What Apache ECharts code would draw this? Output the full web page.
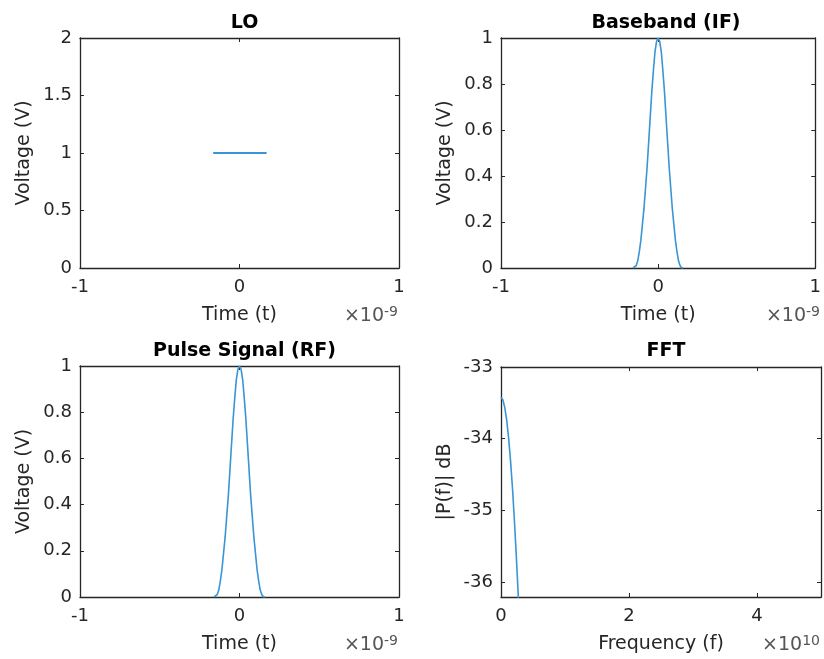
<!DOCTYPE html>
<html>
<head>
<meta charset="utf-8">
<script src="https://cdn.jsdelivr.net/npm/echarts@6/dist/echarts.min.js"></script>
<style>
html,body{margin:0;padding:0;background:#fff;}
#chart{width:824px;height:659px;}
</style>
</head>
<body>
<div id="chart"></div>
<script>
// ---- data (time in ns, i.e. x 1e-9 s; frequency in units of 1e10 Hz) ----
var titles = ['LO', 'Baseband (IF)', 'Pulse Signal (RF)', 'FFT'];
var loTime = [-0.165, 0.17];
var loVoltage = [1, 1];
var pulseTime = [-0.16, -0.15, -0.14, -0.13, -0.12, -0.11, -0.10, -0.09, -0.08, -0.07, -0.06, -0.05, -0.04, -0.03, -0.02, -0.01, 0,
                 0.01, 0.02, 0.03, 0.04, 0.05, 0.06, 0.07, 0.08, 0.09, 0.10, 0.11, 0.12, 0.13, 0.14, 0.15, 0.16];
var basebandVoltage = [0.0, 0.0, 0.01, 0.03, 0.07, 0.12, 0.19, 0.26, 0.35, 0.44, 0.55, 0.66, 0.77, 0.86, 0.94, 0.985, 1.0,
                       0.985, 0.94, 0.86, 0.77, 0.66, 0.55, 0.44, 0.35, 0.26, 0.19, 0.12, 0.07, 0.03, 0.01, 0.0, 0.0];
var rfVoltage = [0.0, 0.0, 0.01, 0.03, 0.07, 0.12, 0.19, 0.26, 0.35, 0.44, 0.55, 0.66, 0.77, 0.86, 0.94, 0.985, 1.0,
                 0.985, 0.94, 0.86, 0.77, 0.66, 0.55, 0.44, 0.35, 0.26, 0.19, 0.12, 0.07, 0.03, 0.01, 0.0, 0.0];
var fftFreq = [0, 0.03, 0.06, 0.09, 0.12, 0.15, 0.18, 0.21, 0.24, 0.27, 0.30];
var fftDb = [-33.42, -33.46, -33.57, -33.75, -34.0, -34.32, -34.7, -35.15, -35.65, -36.2, -36.8];
var timeTicks = [-1, 0, 1];
var loTicks = [0, 0.5, 1, 1.5, 2];
var pulseTicks = [0, 0.2, 0.4, 0.6, 0.8, 1];
var freqTicks = [0, 2, 4];
var dbTicks = [-36, -35, -34, -33];
var xNames = ['Time (t)', 'Time (t)', 'Time (t)', 'Frequency (f)'];
var yNames = ['Voltage (V)', 'Voltage (V)', 'Voltage (V)', '|P(f)| dB'];
var exponents = ['-9', '-9', '-9', '10'];

function zip(a, b) { return a.map(function (v, i) { return [v, b[i]]; }); }

var FONT = 'DejaVu Sans';
var TXT = '#262626';
var LINE = '#3a95d6';

var grids = [
  {left: 80, top: 38, width: 319, height: 230},
  {left: 501, top: 38, width: 320, height: 230},
  {left: 80, top: 366, width: 319, height: 231},
  {left: 501, top: 367, width: 320, height: 230}
];
var xRanges = [[-1, 1, timeTicks], [-1, 1, timeTicks], [-1, 1, timeTicks], [0, 5, freqTicks]];
var yRanges = [[0, 2, loTicks], [0, 1, pulseTicks], [0, 1, pulseTicks], [-36.21, -33, dbTicks]];

function fmt(v) { return String(v); }

var xAxes = [], yAxes = [], titleArr = [], graphics = [];
grids.forEach(function (g, i) {
  var xr = xRanges[i], yr = yRanges[i];
  var axLine = {show: true, onZero: false, lineStyle: {color: TXT, width: 1.3}};
  xAxes.push({
    type: 'value', gridIndex: i, position: 'bottom', min: xr[0], max: xr[1],
    axisLine: axLine,
    axisTick: {show: true, inside: true, length: 4, customValues: xr[2], lineStyle: {color: TXT}},
    axisLabel: {show: true, customValues: xr[2], formatter: fmt, color: TXT, fontFamily: FONT, fontSize: 18, margin: 10},
    splitLine: {show: false},
    name: xNames[i], nameLocation: 'middle', nameGap: 38,
    nameTextStyle: {color: TXT, fontFamily: FONT, fontSize: 19}
  });
  xAxes.push({
    type: 'value', gridIndex: i, position: 'top', min: xr[0], max: xr[1],
    axisLine: axLine,
    axisTick: {show: true, inside: true, length: 4, customValues: xr[2], lineStyle: {color: TXT}},
    axisLabel: {show: false}, splitLine: {show: false}
  });
  yAxes.push({
    type: 'value', gridIndex: i, position: 'left', min: yr[0], max: yr[1],
    axisLine: axLine,
    axisTick: {show: true, inside: true, length: 4, customValues: yr[2], lineStyle: {color: TXT}},
    axisLabel: {show: true, customValues: yr[2], formatter: fmt, color: TXT, fontFamily: FONT, fontSize: 18, margin: 8},
    splitLine: {show: false},
    name: yNames[i], nameLocation: 'middle', nameGap: 46, nameRotate: 90,
    nameTextStyle: {color: TXT, fontFamily: FONT, fontSize: 19}
  });
  yAxes.push({
    type: 'value', gridIndex: i, position: 'right', min: yr[0], max: yr[1],
    axisLine: axLine,
    axisTick: {show: true, inside: true, length: 4, customValues: yr[2], lineStyle: {color: TXT}},
    axisLabel: {show: false}, splitLine: {show: false}
  });
  titleArr.push({
    text: titles[i], left: g.left + g.width / 2, top: (i < 2 ? 9 : 337), textAlign: 'center',
    textStyle: {fontFamily: FONT, fontWeight: 'bold', fontSize: 19, color: '#000'}
  });
  graphics.push({
    type: 'text', x: g.left + g.width - 1, y: g.top + g.height + 37, z: 10,
    style: {
      text: '×10{s|' + exponents[i] + '}', align: 'right', verticalAlign: 'top',
      fontFamily: FONT, fontSize: 19, fill: '#555',
      rich: {s: {fontFamily: FONT, fontSize: 14, fill: '#555', verticalAlign: 'top', padding: [0, 0, 9, 0]}}
    }
  });
});

var seriesData = [zip(loTime, loVoltage), zip(pulseTime, basebandVoltage), zip(pulseTime, rfVoltage), zip(fftFreq, fftDb)];
var series = seriesData.map(function (d, i) {
  return {
    type: 'line', xAxisIndex: i * 2, yAxisIndex: i * 2, data: d,
    showSymbol: false, symbol: 'none', smooth: false, clip: true,
    lineStyle: {color: LINE, width: i === 0 ? 2.2 : 1.6},
    animation: false
  };
});

var chart = echarts.init(document.getElementById('chart'), null, {renderer: 'canvas'});
chart.setOption({
  animation: false,
  backgroundColor: '#fff',
  title: titleArr,
  grid: grids,
  xAxis: xAxes,
  yAxis: yAxes,
  series: series,
  graphic: graphics
});
</script>
</body>
</html>
